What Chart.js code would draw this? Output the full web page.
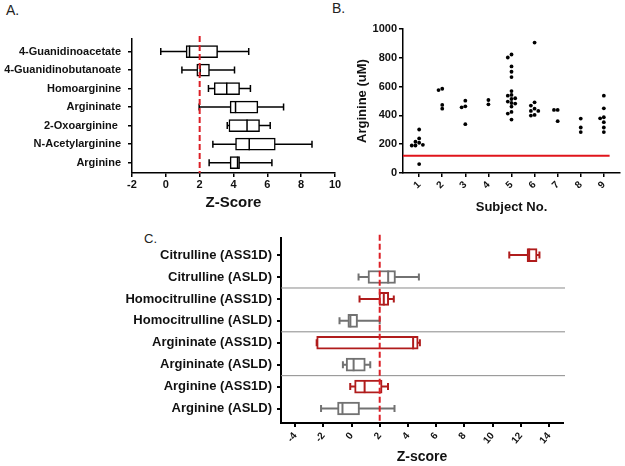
<!DOCTYPE html>
<html>
<head>
<meta charset="utf-8">
<script src="https://cdn.jsdelivr.net/npm/chart.js@4"></script>
<style>
  body { margin: 0; background: #fff; width: 625px; height: 466px; position: relative; overflow: hidden; font-family: 'Liberation Sans', Arial, sans-serif; }
  .panel { position: absolute; }
  .tag { position: absolute; font-size: 14px; color: #222; }
</style>
</head>
<body>
<div class="tag" style="left:6px;top:2px">A.</div>
<div class="tag" style="left:332px;top:0px">B.</div>
<div class="tag" style="left:144px;top:231px;font-size:13px">C.</div>
<div class="panel" style="left:0;top:0;width:345px;height:215px"><canvas id="chartA"></canvas></div>
<div class="panel" style="left:345px;top:0;width:280px;height:215px"><canvas id="chartB"></canvas></div>
<div class="panel" style="left:120px;top:225px;width:450px;height:241px"><canvas id="chartC"></canvas></div>
<script>
// Panel A - metabolite z-scores
const metabolitesA = ['4-Guanidinoacetate', '4-Guanidinobutanoate', 'Homoarginine', 'Argininate', '2-Oxoarginine ', 'N-Acetylarginine', 'Arginine'];
const minA = [-0.3, 0.95, 2.52, 1.97, 3.63, 2.78, 2.56];
const q1A = [1.2, 1.83, 2.86, 3.8, 3.73, 4.12, 3.8];
const medA = [1.4, 2.03, 3.6, 4.12, 4.8, 4.93, 4.24];
const q3A = [3.06, 2.58, 4.36, 5.44, 5.54, 6.47, 4.36];
const maxA = [4.9, 4.06, 5.0, 6.96, 6.17, 8.64, 6.27];
const zTicksA = [-2, 0, 2, 4, 6, 8, 10];

// Panel B - arginine per subject (uM)
const subjects = [1, 2, 3, 4, 5, 6, 7, 8, 9];
const arginineBySubject = [
    [302, 240, 217, 210, 196, 191, 191, 62],
    [585, 576, 473, 447],
    [502, 463, 456, 339],
    [507, 477],
    [823, 802, 740, 703, 666, 569, 542, 537, 519, 514, 496, 486, 482, 461, 424, 413, 371],
    [906, 491, 468, 447, 431, 431, 403, 399],
    [438, 438, 360],
    [378, 316, 284],
    [537, 449, 387, 380, 353, 316, 284]
];
const arginineTicks = [0, 200, 400, 600, 800, 1000];
const arginineLimit = 120;

// Panel C - ASS1D vs ASLD
const metabolitesC = ['Citrulline (ASS1D)', 'Citrulline (ASLD)', 'Homocitrulline (ASS1D)', 'Homocitrulline (ASLD)', 'Argininate (ASS1D)', 'Argininate (ASLD)', 'Arginine (ASS1D)', 'Arginine (ASLD)'];
const minC = [11.19, 0.5, 0.57, -0.85, -2.47, -0.61, -0.09, -2.16];
const q1C = [12.45, 1.17, 1.95, -0.26, -2.47, -0.38, 0.22, -0.99];
const medC = [12.6, 2.6, 2.29, -0.08, 4.37, 0.15, 0.93, -0.64];
const q3C = [13.16, 3.12, 2.64, 0.43, 4.73, 0.98, 2.17, 0.57];
const maxC = [13.33, 4.78, 3.0, 2.0, 4.85, 1.33, 2.59, 3.05];
const zTicksC = [-4, -2, 0, 2, 4, 6, 8, 10, 12, 14];
const groupSeparators = [1.5, 3.5, 5.5];

const zCutoff = 2;

Chart.defaults.font.family = "'Liberation Sans', Arial, sans-serif";
Chart.defaults.font.weight = 'bold';
Chart.defaults.color = '#111';
Chart.defaults.animation = false;

// whiskers + caps behind the box, median and cutoff line over it
function boxWhiskers(mins, meds, maxs, colors, opt) {
    return {
        id: 'boxWhiskers',
        beforeDatasetsDraw(chart) {
            const { ctx, chartArea, scales: { x, y } } = chart;
            ctx.save();
            (opt.separators || []).forEach(s => {
                const py = y.getPixelForValue(s);
                ctx.strokeStyle = '#8a8a8a';
                ctx.lineWidth = 1;
                ctx.beginPath();
                ctx.moveTo(chartArea.left, py);
                ctx.lineTo(chartArea.right + 2, py);
                ctx.stroke();
            });
            ctx.lineWidth = opt.lineWidth;
            mins.forEach((v, i) => {
                const yc = y.getPixelForValue(i);
                const x0 = x.getPixelForValue(v);
                const x1 = x.getPixelForValue(maxs[i]);
                ctx.strokeStyle = colors[i];
                ctx.beginPath();
                ctx.moveTo(x0, yc); ctx.lineTo(x1, yc);
                ctx.moveTo(x0, yc - opt.cap); ctx.lineTo(x0, yc + opt.cap);
                ctx.moveTo(x1, yc - opt.cap); ctx.lineTo(x1, yc + opt.cap);
                ctx.stroke();
            });
            ctx.restore();
        },
        afterDatasetsDraw(chart) {
            const { ctx, chartArea, scales: { x, y } } = chart;
            ctx.save();
            ctx.lineWidth = opt.lineWidth;
            meds.forEach((v, i) => {
                const yc = y.getPixelForValue(i);
                const px = x.getPixelForValue(v);
                ctx.strokeStyle = colors[i];
                ctx.beginPath();
                ctx.moveTo(px, yc - opt.box / 2);
                ctx.lineTo(px, yc + opt.box / 2);
                ctx.stroke();
            });
            const cx = x.getPixelForValue(zCutoff);
            ctx.strokeStyle = '#dc1f26';
            ctx.lineWidth = 2;
            ctx.setLineDash([6, 3]);
            ctx.beginPath();
            ctx.moveTo(cx, chartArea.top - 3);
            ctx.lineTo(cx, chartArea.bottom);
            ctx.stroke();
            ctx.restore();
        }
    };
}

function axisStyle(width) {
    return {
        offset: false,
        grid: { offset: false, drawOnChartArea: false, drawTicks: true, tickLength: 4, color: '#000', lineWidth: width },
        border: { display: true, color: '#000', width: width }
    };
}

// Panel A
new Chart(document.getElementById('chartA'), {
    type: 'bar',
    data: {
        datasets: [{
            data: q1A.map((q, i) => ({ x: [q, q3A[i]], y: i })),
            backgroundColor: '#fff',
            borderColor: '#000',
            borderWidth: 1.5,
            borderSkipped: false,
            barThickness: 12
        }]
    },
    options: {
        indexAxis: 'y',
        responsive: true,
        maintainAspectRatio: false,
        layout: { padding: { top: 39, right: 10, left: 0, bottom: 0 } },
        plugins: { legend: { display: false }, tooltip: { enabled: false } },
        scales: {
            x: {
                type: 'linear', min: -2, max: 10,
                afterBuildTicks: s => { s.ticks = zTicksA.map(v => ({ value: v })); },
                afterFit: s => { s.height = 42; },
                ticks: { font: { size: 11 }, padding: 1, maxRotation: 0 },
                title: { display: true, text: 'Z-Score', font: { size: 15, weight: 'bold' }, padding: { top: 0, bottom: 3 } },
                ...axisStyle(1.5)
            },
            y: {
                type: 'linear', reverse: true, min: -0.68, max: 6.56,
                afterBuildTicks: s => { s.ticks = metabolitesA.map((_, i) => ({ value: i })); },
                afterFit: s => { s.width = 132; },
                ticks: { autoSkip: false, font: { size: 11 }, padding: 7, callback: v => metabolitesA[v] },
                ...axisStyle(1.5)
            }
        }
    },
    plugins: [boxWhiskers(minA, medA, maxA, minA.map(() => '#000'), { lineWidth: 1.5, cap: 3.5, box: 12 })]
});

// Panel B - spread points sideways so they don't overlap
const xPxPerUnit = 23.04, yPxPerUnit = 0.1443, dotGap = 3.7;
const scatterPoints = [];
arginineBySubject.forEach((vals, si) => {
    const placed = [];
    vals.forEach(v => {
        const steps = [0, -1, 1, -2, 2, -3, 3, -4, 4];
        for (const k of steps) {
            const dx = k * dotGap;
            const hit = placed.some(p => {
                const ddx = p.dx - dx, ddy = (p.v - v) * yPxPerUnit;
                return ddx * ddx + ddy * ddy < dotGap * dotGap * 0.95;
            });
            if (!hit) { placed.push({ v, dx }); break; }
        }
    });
    placed.forEach(p => scatterPoints.push({ x: subjects[si] + p.dx / xPxPerUnit, y: p.v }));
});

new Chart(document.getElementById('chartB'), {
    type: 'scatter',
    data: {
        datasets: [{
            data: scatterPoints,
            backgroundColor: '#000',
            borderWidth: 0,
            pointRadius: 1.9
        }, {
            type: 'line',
            data: [{ x: 0.3, y: arginineLimit }, { x: 9.25, y: arginineLimit }],
            borderColor: '#e0141b',
            borderWidth: 2,
            pointRadius: 0
        }]
    },
    options: {
        responsive: true,
        maintainAspectRatio: false,
        layout: { padding: { top: 29, right: 5, left: 0, bottom: 0 } },
        plugins: { legend: { display: false }, tooltip: { enabled: false } },
        scales: {
            x: {
                type: 'linear', min: 0.3, max: 9.7,
                afterBuildTicks: s => { s.ticks = subjects.map(v => ({ value: v })); },
                afterFit: s => { s.height = 42; },
                ticks: { font: { size: 10 }, minRotation: 45, maxRotation: 45, padding: 2 },
                title: { display: true, text: 'Subject No.', font: { size: 13, weight: 'bold' }, padding: { top: 0, bottom: 0 } },
                ...axisStyle(1.5)
            },
            y: {
                min: 0, max: 1000,
                afterBuildTicks: s => { s.ticks = arginineTicks.map(v => ({ value: v })); },
                afterFit: s => { s.width = 58; },
                ticks: { font: { size: 11 }, padding: 2, callback: v => String(v) },
                title: { display: true, text: 'Arginine (uM)', font: { size: 13, weight: 'bold' }, padding: { top: 10, bottom: 0 } },
                ...axisStyle(1.5)
            }
        }
    }
});

// Panel C
const groupColors = metabolitesC.map(m => m.includes('ASS1D') ? '#b01c1c' : '#727272');
new Chart(document.getElementById('chartC'), {
    type: 'bar',
    data: {
        datasets: [{
            data: q1C.map((q, i) => ({ x: [q, q3C[i]], y: i })),
            backgroundColor: '#fff',
            borderColor: groupColors,
            borderWidth: 2,
            borderSkipped: false,
            barThickness: 13
        }]
    },
    options: {
        indexAxis: 'y',
        responsive: true,
        maintainAspectRatio: false,
        layout: { padding: { top: 8, right: 7, left: 0, bottom: 0 } },
        plugins: { legend: { display: false }, tooltip: { enabled: false } },
        scales: {
            x: {
                type: 'linear', min: -5, max: 15,
                afterBuildTicks: s => { s.ticks = zTicksC.map(v => ({ value: v })); },
                afterFit: s => { s.height = 43; },
                ticks: { font: { size: 10 }, minRotation: 50, maxRotation: 50, padding: 3 },
                title: { display: true, text: 'Z-score', font: { size: 14, weight: 'bold' }, padding: { top: 0, bottom: 0 } },
                ...axisStyle(2)
            },
            y: {
                type: 'linear', reverse: true, min: -0.79, max: 7.66,
                afterBuildTicks: s => { s.ticks = metabolitesC.map((_, i) => ({ value: i })); },
                afterFit: s => { s.width = 161; },
                ticks: { autoSkip: false, font: { size: 13 }, padding: 5, callback: v => metabolitesC[v] },
                ...axisStyle(2)
            }
        }
    },
    plugins: [boxWhiskers(minC, medC, maxC, groupColors, { lineWidth: 2, cap: 3.5, box: 13, separators: groupSeparators })]
});
</script>
</body>
</html>
